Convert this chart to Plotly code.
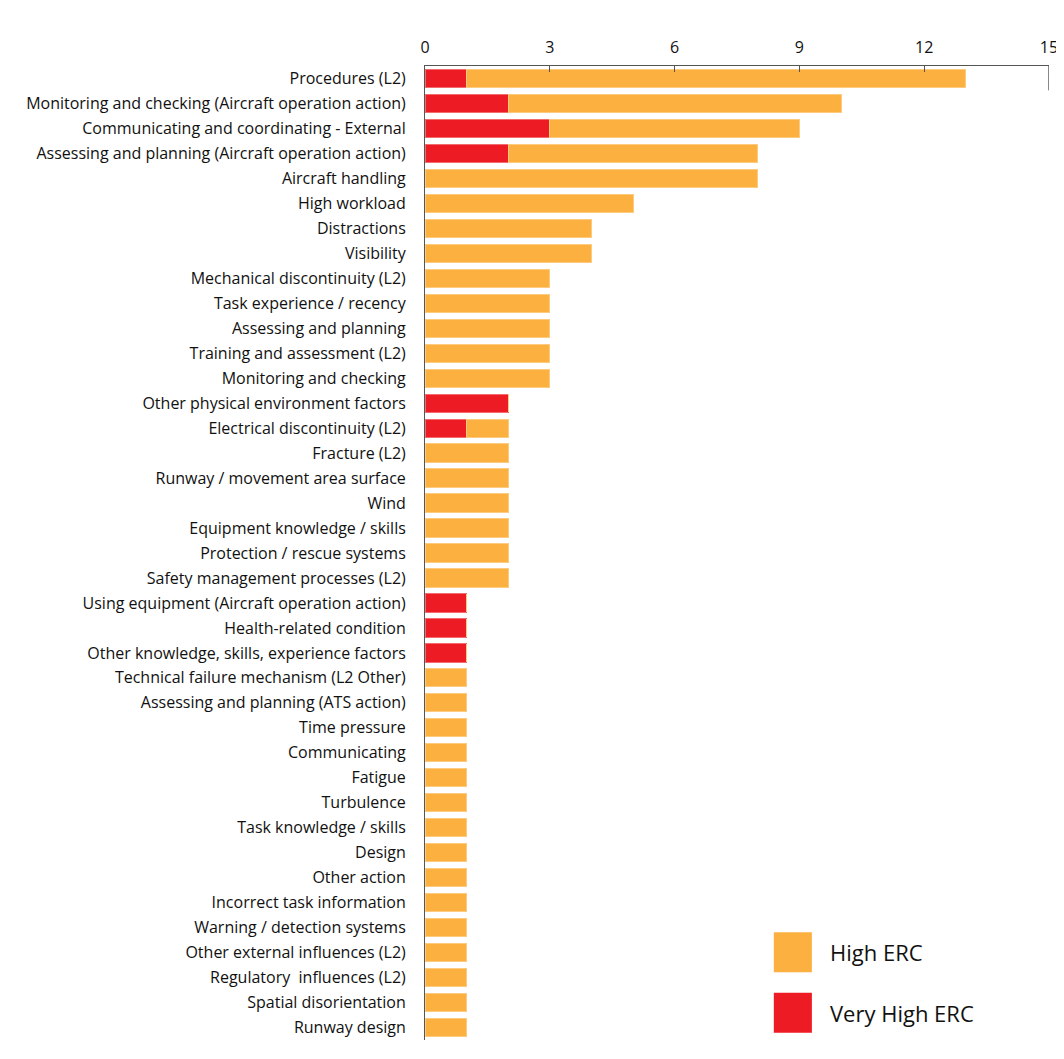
import plotly.graph_objects as go

categories = [
    'Procedures (L2)',
    'Monitoring and checking (Aircraft operation action)',
    'Communicating and coordinating - External',
    'Assessing and planning (Aircraft operation action)',
    'Aircraft handling',
    'High workload',
    'Distractions',
    'Visibility',
    'Mechanical discontinuity (L2)',
    'Task experience / recency',
    'Assessing and planning',
    'Training and assessment (L2)',
    'Monitoring and checking',
    'Other physical environment factors',
    'Electrical discontinuity (L2)',
    'Fracture (L2)',
    'Runway / movement area surface',
    'Wind',
    'Equipment knowledge / skills',
    'Protection / rescue systems',
    'Safety management processes (L2)',
    'Using equipment (Aircraft operation action)',
    'Health-related condition',
    'Other knowledge, skills, experience factors',
    'Technical failure mechanism (L2 Other)',
    'Assessing and planning (ATS action)',
    'Time pressure',
    'Communicating',
    'Fatigue',
    'Turbulence',
    'Task knowledge / skills',
    'Design',
    'Other action',
    'Incorrect task information',
    'Warning / detection systems',
    'Other external influences (L2)',
    'Regulatory  influences (L2)',
    'Spatial disorientation',
    'Runway design',
]

very_high = [1, 2, 3, 2, 0, 0, 0, 0, 0, 0, 0, 0, 0, 2, 1, 0, 0, 0, 0, 0, 0,
             1, 1, 1, 0, 0, 0, 0, 0, 0, 0, 0, 0, 0, 0, 0, 0, 0, 0]
high = [12, 8, 6, 6, 8, 5, 4, 4, 3, 3, 3, 3, 3, 0, 1, 2, 2, 2, 2, 2, 2,
        0, 0, 0, 1, 1, 1, 1, 1, 1, 1, 1, 1, 1, 1, 1, 1, 1, 1]

x_ticks = [0, 3, 6, 9, 12, 15]

ORANGE = '#FBB040'
RED = '#ED1C24'

fig = go.Figure()
fig.add_trace(go.Bar(
    y=categories, x=very_high, orientation='h', name='Very High ERC',
    marker=dict(color=RED, line=dict(color='#F26B6F', width=1)),
))
fig.add_trace(go.Bar(
    y=categories, x=high, orientation='h', name='High ERC',
    marker=dict(color=ORANGE, line=dict(color='#FDCB80', width=1)),
))

# longer end tick at the right end of the top axis
fig.add_shape(type='line', xref='x', yref='paper',
              x0=x_ticks[-1], x1=x_ticks[-1], y0=1, y1=0.975,
              line=dict(color='#111111', width=1))

# legend drawn by hand (big square swatches), bottom right of the plot
legend_items = [('High ERC', ORANGE, 0.090), ('Very High ERC', RED, 0.028)]
for label, color, yc in legend_items:
    fig.add_shape(type='rect', xref='paper', yref='paper',
                  x0=0.559, x1=0.620, y0=yc - 0.0205, y1=yc + 0.0205,
                  fillcolor=color, line=dict(width=0))
    fig.add_annotation(xref='paper', yref='paper', x=0.646, y=yc,
                       text=label, showarrow=False, xanchor='left',
                       yanchor='middle',
                       font=dict(size=22, color='#111111'))

# page body adds an 8px offset, so the figure is a bit smaller than the window
fig.update_layout(
    barmode='stack',
    bargap=0.27,
    width=1056, height=1051,
    margin=dict(l=417, r=15, t=58, b=19),
    paper_bgcolor='white', plot_bgcolor='white',
    showlegend=False,
    font=dict(family='Open Sans', size=16, color='#111111'),
)
fig.update_xaxes(
    side='top', range=[0, 15], tickvals=x_ticks,
    showgrid=False, zeroline=False, automargin=False,
    showline=True, linecolor='#555555', linewidth=1,
    ticks='inside', ticklen=6, tickcolor='#555555',
    ticklabelstandoff=6,
    tickfont=dict(size=16),
)
fig.update_yaxes(
    autorange='reversed', showgrid=False, automargin=False,
    showline=True, linecolor='#555555', linewidth=1,
    ticks='', ticklabelstandoff=15,
    tickfont=dict(size=16),
)

fig.write_html('out.html')
